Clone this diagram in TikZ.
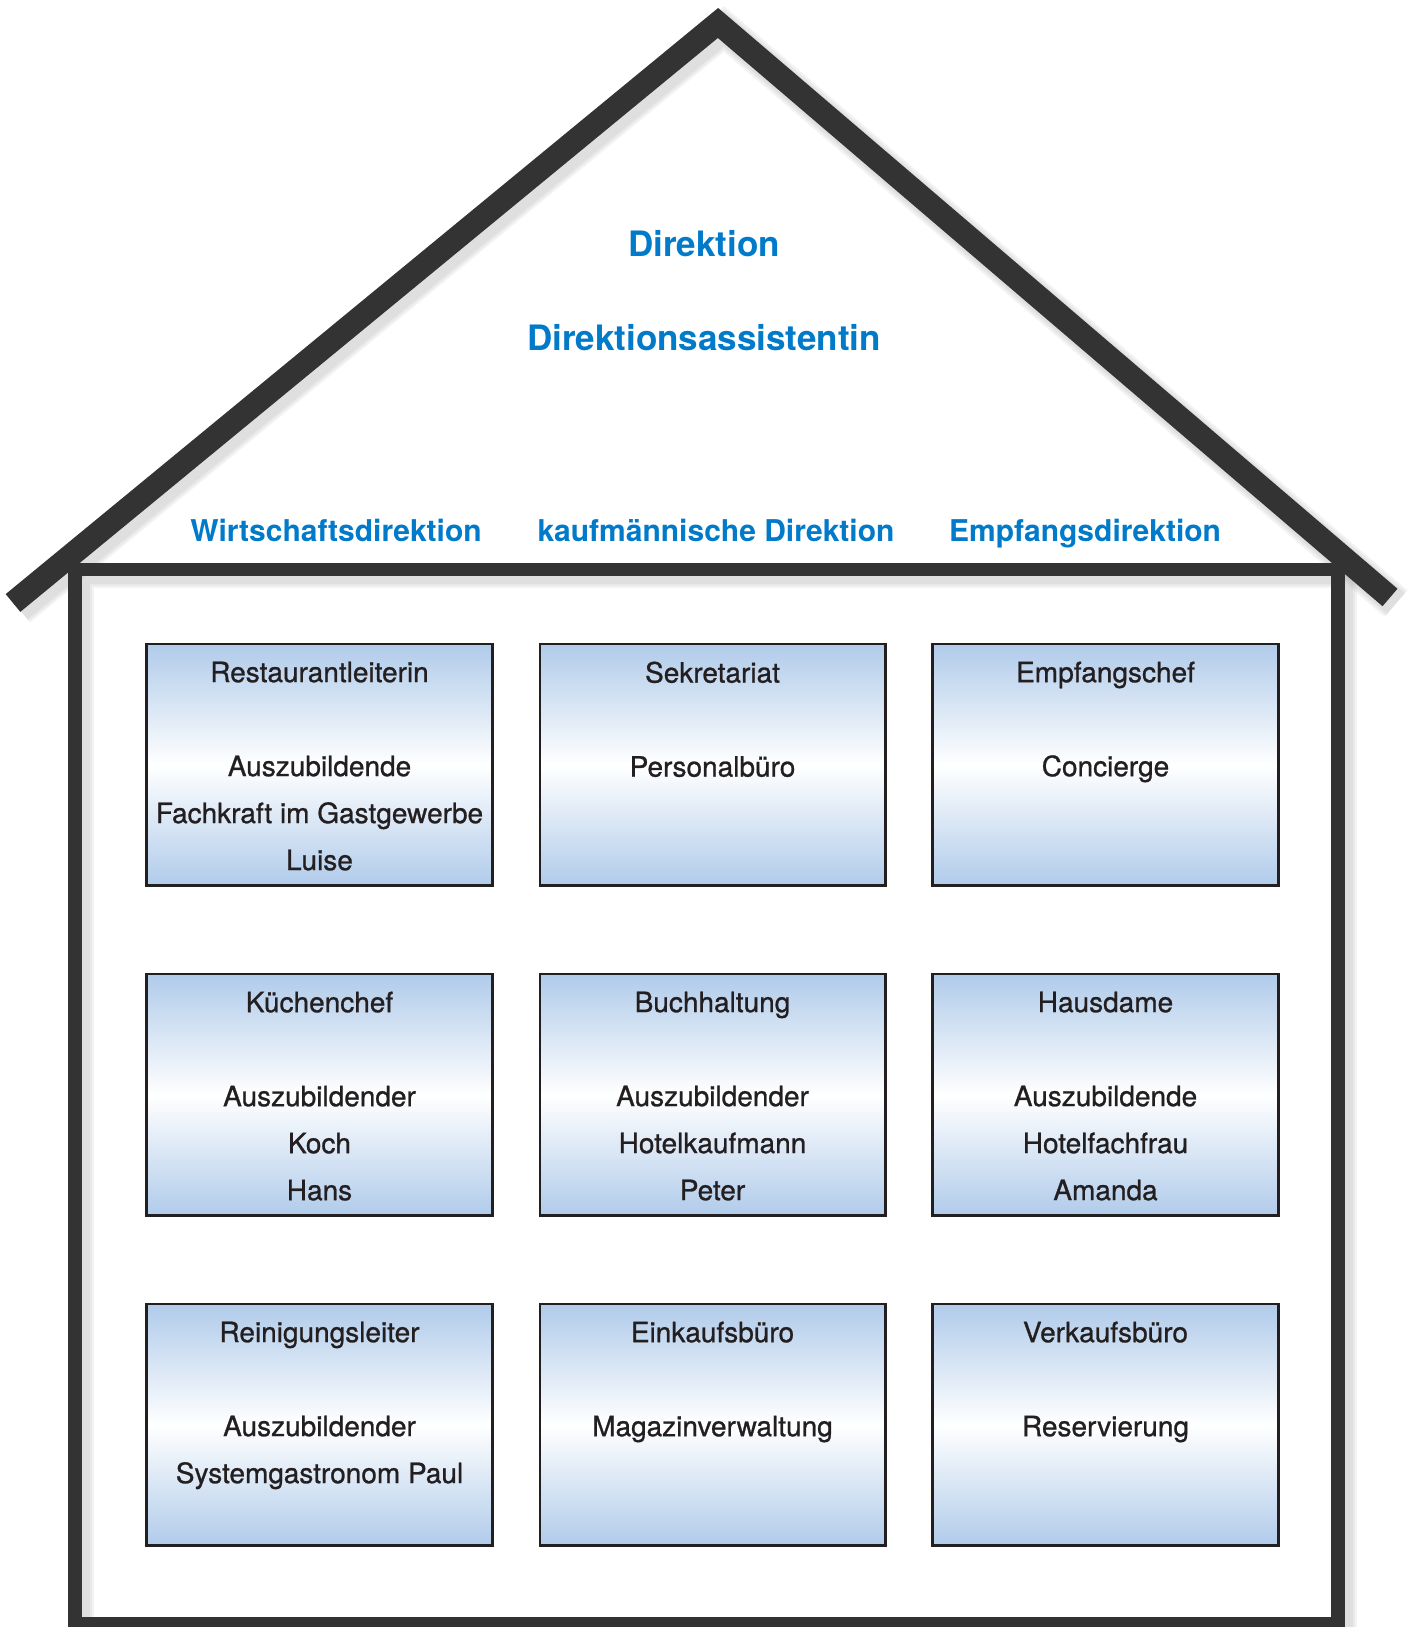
\documentclass[tikz,border=0pt]{standalone}
\usepackage{fontspec}
\setmainfont{TeX Gyre Heros}
\newfontfamily\roomfont{TeX Gyre Heros}[FakeBold=0.9]
\usetikzlibrary{positioning}
\definecolor{framegray}{RGB}{51,51,51}
\definecolor{headblue}{RGB}{0,122,201}
\definecolor{boxblue}{RGB}{176,203,234}
\definecolor{inkblack}{RGB}{35,31,32}
\tikzset{
    office/.style={draw=inkblack, line width=2.5pt, minimum width=345.5pt, minimum height=241.5pt,
      top color=boxblue, bottom color=boxblue, middle color=white},
    staff/.style={font=\roomfont\fontsize{28}{47}\selectfont, text=inkblack, align=center, inner sep=0pt},
    roofhead/.style={font=\fontsize{35}{41}\selectfont\bfseries, text=headblue, anchor=base},
    wardhead/.style={font=\fontsize{30}{36}\selectfont\bfseries, text=headblue, anchor=base},
    beam/.style={draw=framegray, line width=13.5pt, line join=miter},
    rafter/.style={draw=framegray, line width=23pt, line join=miter},
    haze/.style={draw=black!45, opacity=0.1, line join=miter, transform canvas={shift={(6pt,-6pt)}}}
}

\begin{document}
\begin{tikzpicture}[x=1pt, y=1pt]
    \useasboundingbox (0,0) rectangle (1408,1627);
    \coordinate (eaveL) at (13,1024);
    \coordinate (apex) at (718,1604);
    \coordinate (eaveR) at (1390,1029.5);
    \coordinate (floorL) at (75,3.5);
    \coordinate (ceilR) at (1338,1057.5);

    % soft shadow of the frame
    \draw[haze, line width=25.5pt] (floorL) rectangle (ceilR);
    \draw[haze, line width=21.5pt] (floorL) rectangle (ceilR);
    \draw[haze, line width=17.5pt] (floorL) rectangle (ceilR);
    \draw[haze, line width=35pt] (eaveL) -- (apex) -- (eaveR);
    \draw[haze, line width=31pt] (eaveL) -- (apex) -- (eaveR);
    \draw[haze, line width=27pt] (eaveL) -- (apex) -- (eaveR);

    % house
    \draw[beam] (floorL) rectangle (ceilR);
    \draw[rafter] (eaveL) -- (apex) -- (eaveR);

    % roof titles
    \node[roofhead] (dir) at (704,1370) {Direktion};
    \node[roofhead] (assist) at (704,1276) {Direktionsassistentin};
    \node[wardhead] (wirt) at (336,1085.3) {Wirtschaftsdirektion};
    \node[wardhead] (kauf) at (716,1085.3) {kaufmännische Direktion};
    \node[wardhead] (empf) at (1085,1085.3) {Empfangsdirektion};

    % rooms
    \matrix (rooms) [column sep=45pt, row sep=86pt] at (712.5,532) {
      \node[office] (rest) {}; & \node[office] (sekr) {}; & \node[office] (empfchef) {}; \\
      \node[office] (kueche) {}; & \node[office] (buch) {}; & \node[office] (haus) {}; \\
      \node[office] (rein) {}; & \node[office] (eink) {}; & \node[office] (verk) {}; \\
    };

    \node[staff, below=18.5pt of rest.north] (restT) {Restaurantleiterin\\[47pt]Auszubildende\\Fachkraft im Gastgewerbe\\Luise};
    \node[staff, below=18.5pt of sekr.north] (sekrT) {Sekretariat\\[47pt]Personalbüro};
    \node[staff, below=18.5pt of empfchef.north] (empfchefT) {Empfangschef\\[47pt]Concierge};
    \node[staff, below=18.5pt of kueche.north] (kuecheT) {Küchenchef\\[47pt]Auszubildender\\Koch\\Hans};
    \node[staff, below=18.5pt of buch.north] (buchT) {Buchhaltung\\[47pt]Auszubildender\\Hotelkaufmann\\Peter};
    \node[staff, below=18.5pt of haus.north] (hausT) {Hausdame\\[47pt]Auszubildende\\Hotelfachfrau\\Amanda};
    \node[staff, below=18.5pt of rein.north] (reinT) {Reinigungsleiter\\[47pt]Auszubildender\\Systemgastronom Paul};
    \node[staff, below=18.5pt of eink.north] (einkT) {Einkaufsbüro\\[47pt]Magazinverwaltung};
    \node[staff, below=18.5pt of verk.north] (verkT) {Verkaufsbüro\\[47pt]Reservierung};
\end{tikzpicture}
\end{document}
